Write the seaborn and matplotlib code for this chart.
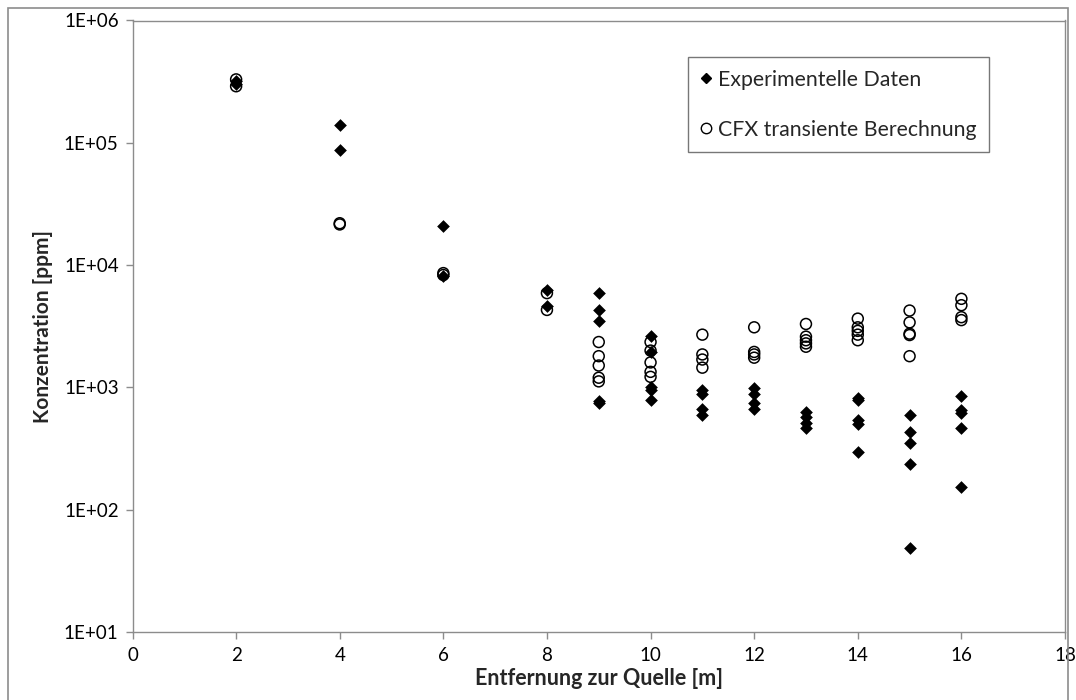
import matplotlib
matplotlib.use("Agg")
import matplotlib.pyplot as plt
from matplotlib.patches import Rectangle
from matplotlib.lines import Line2D
import pandas as pd
import seaborn as sns

# distance from source [m] and concentration [ppm]
exp_x = [2, 2, 4, 4, 6, 6, 8, 8,
         9, 9, 9, 9, 9,
         10, 10, 10, 10, 10,
         11, 11, 11, 11,
         12, 12, 12, 12,
         13, 13, 13, 13,
         14, 14, 14, 14, 14,
         15, 15, 15, 15, 15,
         16, 16, 16, 16, 16]
exp_y = [320000, 300000, 141000, 88000, 21000, 8200, 6200, 4600,
         5900, 4300, 3500, 780, 750,
         2650, 1950, 1000, 960, 790,
         950, 890, 670, 590,
         980, 890, 740, 670,
         630, 570, 515, 465,
         820, 790, 545, 505, 295,
         595, 432, 352, 235, 49,
         850, 650, 615, 465, 153]

cfx_x = [2, 2, 4, 4, 6, 6, 8, 8,
         9, 9, 9, 9, 9,
         10, 10, 10, 10, 10,
         11, 11, 11, 11,
         12, 12, 12, 12,
         13, 13, 13, 13, 13,
         14, 14, 14, 14, 14,
         15, 15, 15, 15, 15,
         16, 16, 16, 16]
cfx_y = [330000, 290000, 21500, 22000, 8600, 8300, 5900, 4300,
         2350, 1800, 1510, 1200, 1120,
         2350, 2000, 1600, 1340, 1220,
         2700, 1860, 1690, 1450,
         3100, 1950, 1860, 1750,
         3300, 2600, 2430, 2290, 2150,
         3650, 3100, 2900, 2700, 2430,
         4250, 3400, 2750, 2680, 1800,
         5300, 4700, 3750, 3550]

x_ticks = [0, 2, 4, 6, 8, 10, 12, 14, 16, 18]
y_ticks = [1e1, 1e2, 1e3, 1e4, 1e5, 1e6]
y_tick_labels = ["1E+01", "1E+02", "1E+03", "1E+04", "1E+05", "1E+06"]

exp_df = pd.DataFrame({"x": exp_x, "y": exp_y})
cfx_df = pd.DataFrame({"x": cfx_x, "y": cfx_y})

sns.set_style("white")
plt.rcParams["font.family"] = ["Lato", "DejaVu Sans"]

fig = plt.figure(figsize=(10.76, 7.0), dpi=100)
# grey frame round the whole chart (Excel style)
fig.patches.append(Rectangle((8 / 1076, -0.05), 1060 / 1076, 1.05 - 8 / 700,
                             transform=fig.transFigure, fill=False,
                             edgecolor="#8c8c8c", linewidth=1.2))

ax = fig.add_axes([132.5 / 1076, 1 - 632 / 700, (1065 - 132.5) / 1076, (632 - 20.5) / 700])

sns.scatterplot(data=exp_df, x="x", y="y", marker="D", s=42, color="black",
                edgecolor="black", linewidth=0, ax=ax, zorder=3)
sns.scatterplot(data=cfx_df, x="x", y="y", marker="o", s=62, facecolor="none",
                edgecolor="black", linewidth=1.1, ax=ax, zorder=4)

ax.set_yscale("log")
ax.set_xlim(0, 18)
ax.set_ylim(1e1, 1e6)
ax.set_xticks(x_ticks)
ax.set_xticklabels([str(t) for t in x_ticks])
ax.set_yticks(y_ticks)
ax.set_yticklabels(y_tick_labels)
ax.minorticks_off()

for side in ["left", "bottom", "right", "top"]:
    ax.spines[side].set_visible(True)
    ax.spines[side].set_color("#8c8c8c")
    ax.spines[side].set_linewidth(1.0)

ax.tick_params(axis="both", which="major", direction="out", length=5,
               width=1.0, color="#8c8c8c", labelsize=13.5, labelcolor="black",
               left=True, bottom=True)
ax.tick_params(axis="y", pad=5)
ax.tick_params(axis="x", pad=6)

ax.set_xlabel("Entfernung zur Quelle [m]", fontsize=15.5, fontweight="bold", labelpad=3)
ax.set_ylabel("Konzentration [ppm]", fontsize=15, fontweight="bold", labelpad=8)

handles = [
    Line2D([], [], marker="D", linestyle="none", color="black", markersize=5.5),
    Line2D([], [], marker="o", linestyle="none", markerfacecolor="none",
           markeredgecolor="black", markersize=7.5, markeredgewidth=1.0),
]
leg = ax.legend(handles, ["Experimentelle Daten", "CFX transiente Berechnung"],
                loc="upper left",
                bbox_to_anchor=((688 - 132.5) / (1065 - 132.5), 1 - (57 - 20.5) / (632 - 20.5)),
                frameon=True, fancybox=False, edgecolor="#555555", fontsize=15.3,
                handletextpad=0.3, handlelength=0.5, labelspacing=1.4,
                borderpad=0.6, borderaxespad=0)
leg.get_frame().set_linewidth(1.0)

fig.savefig("out.png", dpi=100)
